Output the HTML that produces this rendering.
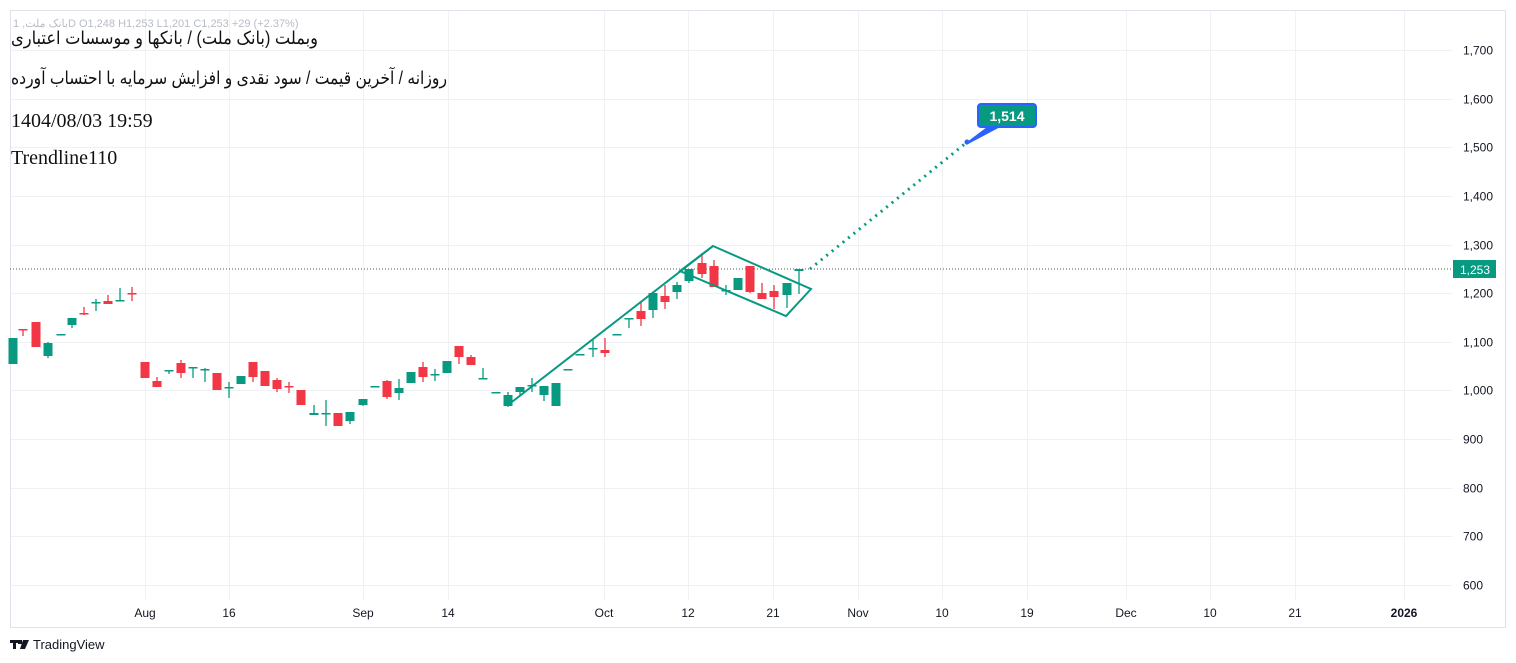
<!DOCTYPE html>
<html><head><meta charset="utf-8"><style>
html,body{margin:0;padding:0;background:#fff;width:1516px;height:663px;overflow:hidden}
svg{display:block}
</style></head><body>
<svg id="s" width="1516" height="663" xmlns="http://www.w3.org/2000/svg" font-family="Liberation Sans, sans-serif">
<rect x="0" y="0" width="1516" height="663" fill="#fff"/>
<g id="grid" stroke="#f0f1f4" stroke-width="1"></g>
<rect x="10.5" y="10.5" width="1495" height="617" fill="none" stroke="#e0e3eb"/>
<line x1="10" y1="269" x2="1452" y2="269" stroke="#555" stroke-width="1" stroke-dasharray="1,2"/>
<g id="c"></g>
<g fill="none" stroke="#089981" stroke-width="2">
<line x1="508" y1="405" x2="713" y2="246"/>
<polygon points="713,246 811,289 786,316 680,271"/>
<line x1="810" y1="269" x2="966" y2="143" stroke-dasharray="2,5" stroke-width="3"/>
</g>
<path d="M966,144 L990,126 L1000,126 Z" fill="#2962ff" stroke="#2962ff" stroke-width="2"/>
<circle cx="967" cy="142" r="2.5" fill="#2962ff"/>
<rect x="978" y="104" width="58" height="23" rx="3" fill="#089981" stroke="#2962ff" stroke-width="2"/>
<text x="1007" y="121" text-anchor="middle" fill="#fff" font-size="14" font-weight="bold">1,514</text>
<rect x="1453" y="260" width="43" height="18" fill="#089981"/>
<text x="1475" y="274" text-anchor="middle" fill="#fff" font-size="12">1,253</text>
<g id="yl" font-size="12" fill="#131722"></g>
<g font-size="12" fill="#131722" text-anchor="middle">
<text x="145" y="617">Aug</text><text x="229" y="617">16</text><text x="363" y="617">Sep</text><text x="448" y="617">14</text>
<text x="604" y="617">Oct</text><text x="688" y="617">12</text><text x="773" y="617">21</text><text x="858" y="617">Nov</text>
<text x="942" y="617">10</text><text x="1027" y="617">19</text><text x="1126" y="617">Dec</text><text x="1210" y="617">10</text>
<text x="1295" y="617">21</text><text x="1404" y="617" font-weight="bold">2026</text>
</g>
<text x="13" y="27" font-size="11" fill="#b8bcc6">بانک ملت, 1D  O1,248  H1,253  L1,201  C1,253  +29 (+2.37%)</text>
<text x="318" y="44" text-anchor="start" font-size="18" fill="#111" font-family="Liberation Sans, DejaVu Sans, sans-serif" direction="rtl" textLength="307" lengthAdjust="spacingAndGlyphs">وبملت (بانک ملت) / بانکها و موسسات اعتباری</text>
<text x="447" y="84" text-anchor="start" font-size="18" fill="#111" font-family="Liberation Sans, DejaVu Sans, sans-serif" direction="rtl" textLength="436" lengthAdjust="spacingAndGlyphs">روزانه / آخرین قیمت / سود نقدی و افزایش سرمایه با احتساب آورده</text>
<text x="11" y="127" font-size="20" fill="#111" font-family="Liberation Serif, serif">1404/08/03 19:59</text>
<text x="11" y="164" font-size="20" fill="#111" font-family="Liberation Serif, serif">Trendline110</text>
<g fill="#131722"><rect x="10" y="640" width="8" height="3"/><rect x="13" y="640" width="3" height="9"/><rect x="18" y="640" width="4" height="4"/><path d="M23,640 L29,640 L25,649 L20,649 Z"/></g>
<text x="33" y="649" font-size="13" fill="#131722">TradingView</text>
</svg>
<script>
var NS="http://www.w3.org/2000/svg";
function el(p,t,a){var e=document.createElementNS(NS,t);for(var k in a)e.setAttribute(k,a[k]);p.appendChild(e);return e;}
var g=document.getElementById('grid'),yl=document.getElementById('yl');
for(var p=600;p<=1700;p+=100){var y=Math.round(50+(1700-p)*0.4864)+0.5;el(g,'line',{x1:10,y1:y,x2:1452,y2:y});
var t=el(yl,'text',{x:1463,y:y+4});t.textContent=(p>=1000?(Math.floor(p/1000)+','+String(p%1000).padStart(3,'0')):p);}
[145,229,363,448,604,688,773,858,942,1027,1126,1210,1295,1404].forEach(function(x){el(g,'line',{x1:x+0.5,y1:10,x2:x+0.5,y2:600});});
var C=[[13,338,364,338,364,1],[23,329,330,329,336,0],[36,322,347,322,347,0],[48,343,356,342,358,1],[61,334,335,334,335,1],[72,318,325,318,328,1],[84,313,314,307,315,0],[96,302,303,299,311,1],[108,301,304,295,304,0],[120,300,301,288,301,1],[132,293,294,287,301,0],
[145,362,378,362,378,0],[157,381,387,377,387,0],[169,370,371,370,374,1],[181,363,373,360,378,0],[193,367,368,367,378,1],[205,369,370,368,382,1],[217,373,390,373,390,0],[229,387,388,382,398,1],[241,376,384,376,384,1],[253,362,377,362,382,0],[265,371,386,371,386,0],[277,380,389,378,392,0],[289,386,387,382,393,0],[301,390,405,390,405,0],
[314,413,415,405,415,1],[326,413,414,400,426,1],[338,413,426,413,426,0],[350,412,421,412,424,1],[363,399,405,399,406,1],[375,386,387,386,387,1],[387,381,397,380,399,0],[399,388,393,379,400,1],[411,372,383,372,383,1],[423,367,377,362,382,0],[435,374,375,369,381,1],[447,361,373,361,373,1],[459,346,357,346,364,0],[471,357,365,355,365,0],[483,378,379,368,379,1],[496,392,393,392,393,1],[508,395,406,392,407,1],[520,387,392,387,396,1],[532,385,386,378,392,1],[544,386,395,386,401,1],[556,383,406,383,406,1],[568,369,370,369,370,1],
[580,354,355,354,355,1],[593,348,349,340,357,1],[605,350,353,338,357,0],[617,334,335,334,335,1],[629,318,319,318,328,1],[641,311,319,302,326,0],[653,293,310,293,318,1],[665,296,302,285,309,0],[677,285,292,282,299,1],[689,269,281,269,283,1],[702,263,274,253,278,0],[714,266,287,260,287,0],[726,290,291,285,295,1],[738,278,290,278,290,1],[750,266,292,266,293,0],[762,293,299,283,299,0],[774,291,297,285,309,0],[787,283,295,283,308,1],[799,269,271,269,294,1]];
var cg=document.getElementById('c');
C.forEach(function(c){var col=c[5]?'#089981':'#f23645';
el(cg,'line',{x1:c[0],y1:c[3],x2:c[0],y2:c[4],stroke:col,'stroke-width':1.3});
var h=Math.max(c[2]-c[1],1.5);el(cg,'rect',{x:c[0]-4.5,y:c[1],width:9,height:h,fill:col});});
</script>
</body></html>
